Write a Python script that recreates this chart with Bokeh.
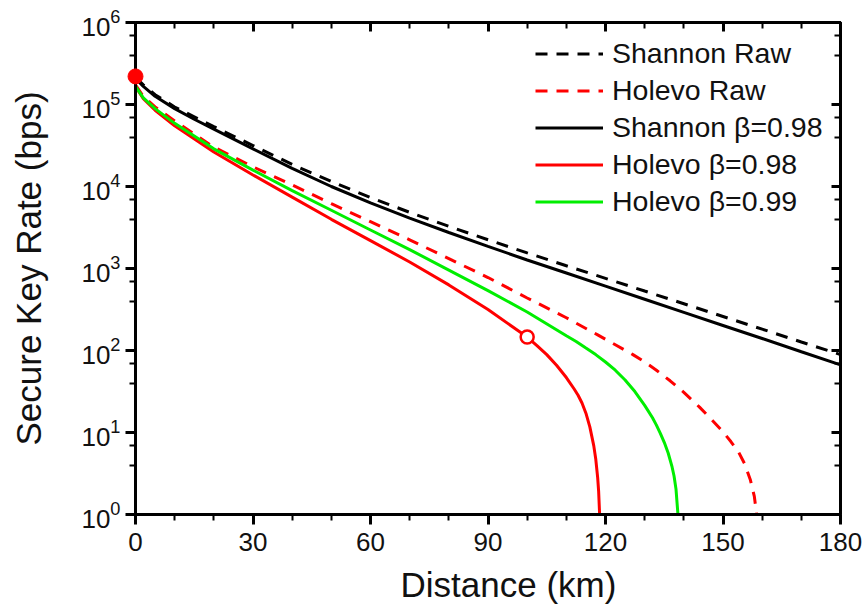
from bokeh.plotting import figure
from bokeh.models import (LogAxis, LinearAxis, FixedTicker, Legend, LegendItem, Range1d, Title)
from bokeh.embed import file_html
from bokeh.resources import INLINE

# ---------------- data ----------------
d_shannon = [0, 2, 5, 10, 15, 20, 30, 40, 50, 60, 70, 80, 90, 100, 110, 120, 130, 140, 150, 160, 170, 180]
shannon_raw = [213800, 173800, 131800, 93300, 70800, 53700, 31600, 18600, 11500, 7330, 4840, 3270,
               2240, 1550, 1080, 759, 531, 372, 260, 182, 127, 89.1]
shannon_098 = [208900, 166000, 125900, 89100, 66100, 50100, 28800, 16600, 10000, 6310, 4120, 2750,
               1860, 1270, 881, 610, 422, 292, 202, 140, 96.6, 66.8]

d_holevo_raw = [0, 2, 5, 10, 20, 30, 40, 50, 60, 70, 80, 90, 100, 110, 118, 122.5, 127, 130, 133,
                136.5, 140, 144, 147, 150, 152, 154, 155.5, 157, 158, 158.6]
holevo_raw = [173800, 125900, 93300, 63100, 30200, 17380, 10470, 6170, 3720, 2240, 1320, 776, 437, 251,
              155, 117.5, 89.1, 72.4, 57.5, 42.7, 30.9, 20.4, 14.5, 10.2, 7.76, 5.75, 4.17, 2.63,
              1.66, 1.0]

d_holevo_098 = [0, 2, 5, 10, 20, 30, 40, 50, 60, 70, 80, 90, 100, 102.5, 105, 107.5, 110, 112, 113,
                114, 115, 116, 117, 117.5, 118, 118.25, 118.5]
holevo_098 = [166000, 117500, 85100, 55000, 26300, 13800, 7410, 3980, 2190, 1200, 631, 316, 146, 114.8,
              89.1, 66.1, 46.8, 33.9, 28.5, 22.9, 17.2, 11.7, 6.92, 4.79, 2.82, 1.91, 1.0]

d_holevo_099 = [0, 2, 5, 10, 20, 30, 40, 50, 60, 70, 80, 90, 100, 110, 112.5, 115, 117.5, 120, 122.5,
                125, 127.5, 130, 132, 133, 134, 135, 136, 137, 137.5, 138, 138.5]
holevo_099 = [166000, 120200, 89100, 58900, 28800, 15850, 8910, 5130, 2950, 1700, 955, 537, 295, 151,
              128.8, 107, 89.1, 72.4, 57.5, 43.7, 31.6, 21.4, 15.1, 12.3, 9.77, 7.59, 5.62, 3.80,
              2.95, 2.04, 1.0]

start_point_d = [0]
start_point_rate = [220000]
open_point_d = [100]
open_point_rate = [146]

x_ticks = [0, 30, 60, 90, 120, 150, 180]
x_minor = [10, 20, 40, 50, 70, 80, 100, 110, 130, 140, 160, 170]
y_ticks = [1, 10, 100, 1000, 10000, 100000, 1000000]
y_minor = [m * t for t in y_ticks[:-1] for m in (4, 7)]

FONT = "Liberation Sans"

p = figure(frame_width=705, frame_height=492, x_range=Range1d(0, 180), y_range=Range1d(1, 1e6),
           y_axis_type="log", output_backend="svg", toolbar_location=None,
           min_border_left=135, min_border_right=26, min_border_top=22, min_border_bottom=95,
           background_fill_color="white", border_fill_color="white")
p.grid.visible = False
p.outline_line_color = "black"
p.outline_line_width = 3

# main axes
xa = p.xaxis[0]
ya = p.yaxis[0]
xa.ticker = FixedTicker(ticks=x_ticks, minor_ticks=x_minor)
ya.ticker = FixedTicker(ticks=y_ticks, minor_ticks=y_minor)
for ax in (xa, ya):
    ax.axis_line_width = 3
    ax.major_tick_line_width = 3
    ax.minor_tick_line_width = 2
    ax.major_tick_out = 10
    ax.major_tick_in = 0
    ax.minor_tick_out = 6
    ax.minor_tick_in = 0
    ax.major_label_text_font = FONT
    ax.major_label_text_font_size = "26px"
    ax.major_label_text_color = "#111111"
    ax.axis_label_text_font = FONT
    ax.axis_label_text_font_size = "35px"
    ax.axis_label_text_font_style = "normal"
    ax.axis_label_text_color = "#111111"
ya.axis_label = "Secure Key Rate (bps)"
xa.major_label_standoff = 8
ya.major_label_standoff = 5
ya.axis_label_standoff = 30

# x-axis title, a little right of the frame centre as in the reference
p.add_layout(Title(text="Distance (km)", align="left", offset=265, text_font=FONT,
                   text_font_size="35px", text_font_style="normal", text_color="#111111",
                   standoff=18), "below")

# mirror axes (inward ticks, no labels)
top = LinearAxis(ticker=FixedTicker(ticks=x_ticks, minor_ticks=x_minor))
right = LogAxis(ticker=FixedTicker(ticks=y_ticks, minor_ticks=y_minor))
for ax in (top, right):
    ax.axis_line_width = 3
    ax.major_tick_line_width = 3
    ax.minor_tick_line_width = 2
    ax.major_tick_in = 9
    ax.major_tick_out = 0
    ax.minor_tick_in = 6
    ax.minor_tick_out = 0
    ax.major_label_text_font_size = "0px"
    ax.major_label_text_alpha = 0
    ax.major_label_standoff = 0
p.add_layout(top, "above")
p.add_layout(right, "right")

LW = 3
DASH = "12 9"
r_sraw = p.line(d_shannon, shannon_raw, line_color="black", line_width=LW, line_dash=DASH)
r_hraw = p.line(d_holevo_raw, holevo_raw, line_color="#ff0000", line_width=LW, line_dash=DASH)
r_s098 = p.line(d_shannon, shannon_098, line_color="black", line_width=LW)
r_h098 = p.line(d_holevo_098, holevo_098, line_color="#ff0000", line_width=LW)
r_h099 = p.line(d_holevo_099, holevo_099, line_color="#00ee00", line_width=LW)

p.scatter(start_point_d, start_point_rate, size=15, fill_color="#ff0000", line_color="#ff0000",
          level="overlay")
p.scatter(open_point_d, open_point_rate, size=13, fill_color="white", line_color="#ff0000",
          line_width=2.5)

legend = Legend(items=[
    LegendItem(label="Shannon Raw", renderers=[r_sraw]),
    LegendItem(label="Holevo Raw", renderers=[r_hraw]),
    LegendItem(label="Shannon \u03b2=0.98", renderers=[r_s098]),
    LegendItem(label="Holevo \u03b2=0.98", renderers=[r_h098]),
    LegendItem(label="Holevo \u03b2=0.99", renderers=[r_h099]),
], location=(400, 294), border_line_color=None, background_fill_alpha=0,
    label_text_font=FONT, label_text_font_size="28.5px", label_text_color="#111111",
    glyph_width=68, glyph_height=37, label_height=37, spacing=0, padding=0, margin=0,
    label_standoff=9)
p.add_layout(legend)

open("out.html", "w").write(file_html(p, INLINE))
